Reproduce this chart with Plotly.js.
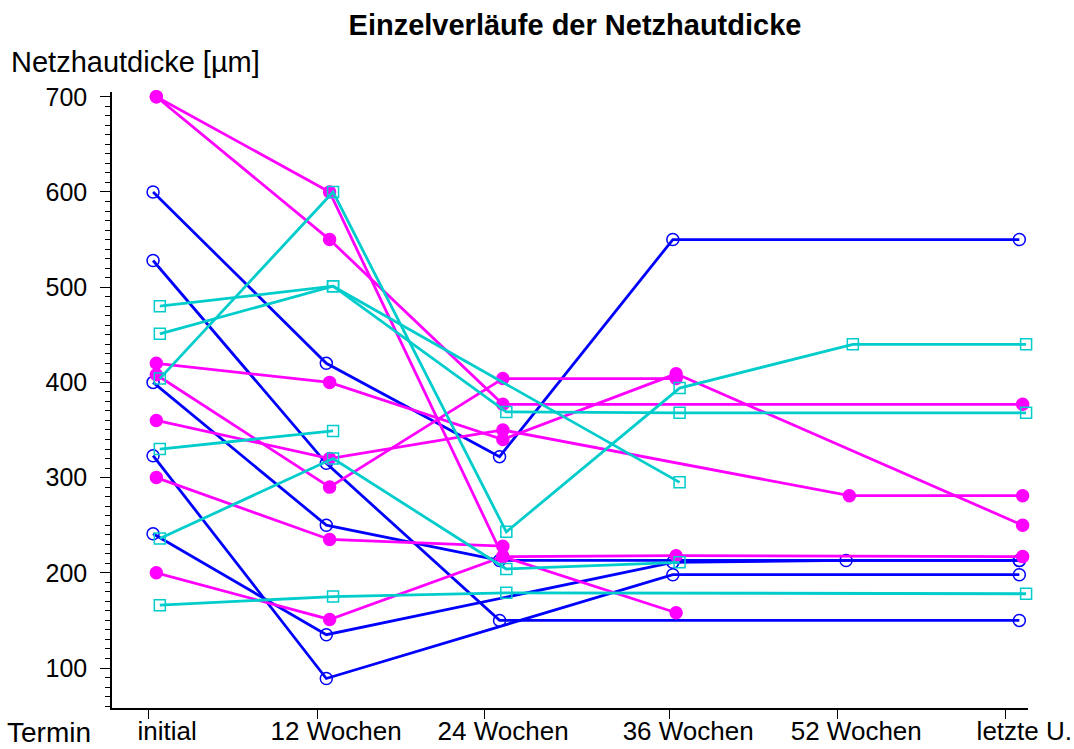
<!DOCTYPE html>
<html>
<head>
<meta charset="utf-8">
<script src="https://cdn.plot.ly/plotly-3.0.1.min.js"></script>
<style>
  html, body { margin: 0; padding: 0; background: #fff; }
  #netzhautPlot { width: 1074px; height: 749px; }
</style>
</head>
<body>
<div id="netzhautPlot"></div>
<script>
// Termine (x categories)
var termine = ['initial', '12 Wochen', '24 Wochen', '36 Wochen', '52 Wochen', 'letzte U.'];

// blue group (open circles)
var blau1 = [600, 420, 322, 550, null, 550];
var blau2 = [528, 315, 150, null, null, 150];
var blau3 = [400, 250, 213, null, null, 213];
var blau4 = [323, 89, null, 198, null, 198];
var blau5 = [241, 135, null, 211, 213, 213];

// magenta group (filled dots)
var magenta1 = [700, 600, 217, 218, null, 217];
var magenta2 = [700, 550, 377, null, null, 377];
var magenta3 = [420, 400, 340, 409, null, 250];
var magenta4 = [408, 290, 404, 404, null, null];
var magenta5 = [360, 320, 350, null, 281, 281];
var magenta6 = [300, 235, 228, null, null, null];
var magenta7 = [200, 151, 217, 158, null, null];

// cyan group (open squares)
var cyan1 = [404, 600, 243, 394, 440, 440];
var cyan2 = [480, 501, 369, 368, null, 368];
var cyan3 = [451, 501, null, 295, null, null];
var cyan4 = [330, 349, null, null, null, null];
var cyan5 = [236, 320, 204, 211, null, null];
var cyan6 = [166, 175, 179, null, null, 178];

var gruppen = [
  {serien: [blau1, blau2, blau3, blau4, blau5], farbe: 'rgb(0,0,255)', symbol: 'circle-open', size: 12, versatz: 0},
  {serien: [magenta1, magenta2, magenta3, magenta4, magenta5, magenta6, magenta7], farbe: 'rgb(255,0,255)', symbol: 'circle', size: 12, versatz: 0.019},
  {serien: [cyan1, cyan2, cyan3, cyan4, cyan5, cyan6], farbe: 'rgb(0,204,204)', symbol: 'square-open', size: 11, versatz: 0.039}
];

var data = [];
for (var g = 0; g < gruppen.length; g++) {
  var gr = gruppen[g];
  for (var s = 0; s < gr.serien.length; s++) {
    var x = [];
    for (var i = 0; i < termine.length; i++) {
      x.push(i + gr.versatz);
    }
    data.push({
      x: x,
      y: gr.serien[s],
      mode: 'lines+markers',
      type: 'scatter',
      connectgaps: true,
      cliponaxis: false,
      showlegend: false,
      line: {color: gr.farbe, width: 2.8},
      marker: {
        color: gr.farbe,
        symbol: gr.symbol,
        size: gr.size,
        line: {color: gr.farbe, width: 1.5}
      }
    });
  }
}

var layout = {
  width: 1074,
  height: 749,
  margin: {l: 112, r: 46, t: 92, b: 41, pad: 0},
  paper_bgcolor: '#fff',
  plot_bgcolor: '#fff',
  font: {family: 'Arial, "Liberation Sans", sans-serif', color: '#000'},
  showlegend: false,
  title: {
    text: '<b>Einzelverläufe der Netzhautdicke</b>',
    font: {size: 29, color: '#000'},
    x: 575 / 1074,
    xanchor: 'center',
    xref: 'container',
    yref: 'container',
    y: 0.967,
    yanchor: 'middle'
  },
  xaxis: {
    range: [-0.237, 5.05],
    showgrid: false,
    zeroline: false,
    showline: true,
    linecolor: '#000',
    linewidth: 1.5,
    ticks: 'outside',
    ticklen: 9,
    tickwidth: 1,
    tickcolor: '#000',
    tickvals: [-0.029, 0.947, 1.911, 2.979, 3.949, 4.919],
    ticktext: termine,
    ticklabelshift: 19,
    ticklabelstandoff: -10,
    ticklabeloverflow: 'allow',
    tickfont: {size: 26, color: '#000'}
  },
  yaxis: {
    range: [58, 705],
    showgrid: false,
    zeroline: false,
    showline: true,
    linecolor: '#000',
    linewidth: 1.5,
    ticks: 'outside',
    ticklen: 10,
    tickwidth: 1,
    tickcolor: '#000',
    tickvals: [100, 200, 300, 400, 500, 600, 700],
    ticklabelstandoff: 8,
    tickfont: {size: 25, color: '#000'},
    minor: {dtick: 10, ticks: 'outside', ticklen: 5, tickwidth: 1, tickcolor: '#000', showgrid: false}
  },
  annotations: [
    {
      text: 'Netzhautdicke [µm]',
      xref: 'paper', yref: 'paper',
      x: -0.112, xanchor: 'left',
      y: 1.049, yanchor: 'middle',
      showarrow: false,
      font: {size: 29, color: '#000'}
    },
    {
      text: 'Termin',
      xref: 'paper', yref: 'paper',
      x: -0.117, xanchor: 'left',
      y: -0.04, yanchor: 'middle',
      showarrow: false,
      font: {size: 28, color: '#000'}
    }
  ]
};

Plotly.newPlot('netzhautPlot', data, layout, {displayModeBar: false});
</script>
</body>
</html>
